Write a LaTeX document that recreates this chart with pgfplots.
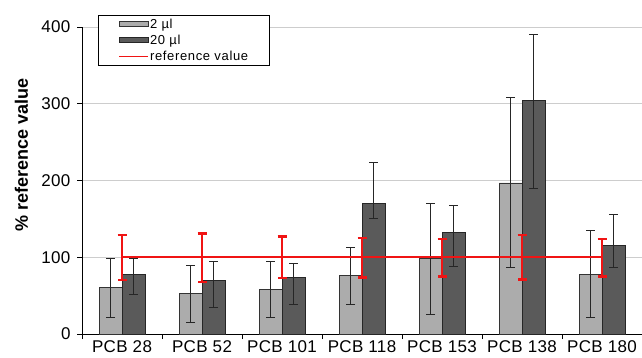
\documentclass[border=0pt]{standalone}
\usepackage{fontspec}
\setmainfont{Liberation Sans}
\newfontfamily\tickfont[LetterSpace=2]{Liberation Sans}
\newfontfamily\legfont[LetterSpace=5]{Liberation Sans}
\usepackage{pgfplots}
\pgfplotsset{compat=1.18}
\definecolor{lightbar}{RGB}{172,172,172}
\definecolor{darkbar}{RGB}{90,90,90}
\definecolor{gridc}{RGB}{205,205,205}
\definecolor{refred}{RGB}{240,20,20}
\begin{document}
\begin{tikzpicture}[x=1pt,y=1pt]
\begin{axis}[
  scale only axis,
  width=560pt, height=307pt,
  xmin=-0.5, xmax=6.5, ymin=0, ymax=400,
  axis x line=bottom, axis y line=left,
  axis line style={-, black, line width=0.8pt},
  ytick={0,100,200,300,400},
  xtick={-0.5,0.5,...,6.5},
  x tick label as interval,
  xticklabels={PCB 28,PCB 52,PCB 101,PCB 118,PCB 153,PCB 138,PCB 180},
  tick align=outside,
  major tick length=5pt,
  tick style={black, line width=0.7pt},
  ymajorgrids, grid style={gridc, line width=0.8pt},
  /pgf/number format/assume math mode=true,
  tick label style={font=\tickfont\fontsize{17}{19}\selectfont},
  yticklabel style={xshift=-3pt},
  xticklabel style={anchor=north, inner ysep=0.5pt, yshift=-1pt},
  ylabel={\textbf{\% reference value}},
  every axis y label/.style={at={(rel axis cs:-0.108,0.583)}, rotate=90, anchor=center,
     font=\fontsize{18}{20}\selectfont},
  legend style={at={(rel axis cs:0.0286,1.039)}, anchor=north west,
    draw=black, line width=0.8pt, font=\legfont\fontsize{13}{14}\selectfont,
    inner xsep=20pt, inner ysep=2.5pt, row sep=3pt, legend cell align=left,
    nodes={inner xsep=1.5pt, inner ysep=1pt}},
  legend image code/.code={\draw[#1, line width=0.8pt] (0pt,-2.5pt) rectangle (29pt,2.5pt);},
  clip=false,
]
\addplot[ybar, bar width=0.2875, bar shift=0, fill=lightbar, draw=black!80, line width=0.6pt,
  error bars/.cd, y dir=both, y explicit,
  error bar style={black!85, line width=0.7pt},
  error mark options={rotate=90, mark size=4.5pt, line width=0.9pt}]
coordinates {
 (-0.14375,61) += (0,38) -= (0,39)
 (0.85625,53) += (0,36) -= (0,38)
 (1.85625,58) += (0,36) -= (0,36)
 (2.85625,76.5) += (0,36.5) -= (0,38.5)
 (3.85625,98) += (0,72) -= (0,72)
 (4.85625,197) += (0,111) -= (0,110)
 (5.85625,78) += (0,56.5) -= (0,57)
};
\addlegendentry{2 µl}
\addplot[ybar, bar width=0.2875, bar shift=0, fill=darkbar, draw=black!85, line width=0.6pt,
  error bars/.cd, y dir=both, y explicit,
  error bar style={black!85, line width=0.7pt},
  error mark options={rotate=90, mark size=4.5pt, line width=0.9pt}]
coordinates {
 (0.14375,78) += (0,20) -= (0,27)
 (1.14375,70) += (0,25) -= (0,36)
 (2.14375,74) += (0,18) -= (0,36)
 (3.14375,170) += (0,54) -= (0,20)
 (4.14375,132.5) += (0,34.5) -= (0,44.5)
 (5.14375,304) += (0,86) -= (0,114)
 (6.14375,115) += (0,41) -= (0,28)
};
\addlegendentry{20 µl}
\addplot[refred, line width=2.4pt, mark=none,
  legend image code/.code={\draw[refred, line width=1.2pt] (0pt,0pt) -- (29pt,0pt);},
  error bars/.cd, y dir=both, y explicit,
  error bar style={refred, line width=2.2pt},
  error mark options={rotate=90, mark size=4.5pt, line width=2.2pt, refred}]
coordinates {
 (0,100) += (0,29.5) -= (0,30)
 (1,100) += (0,31) -= (0,32)
 (2,100) += (0,27) -= (0,27)
 (3,100) += (0,25.5) -= (0,26.5)
 (4,100) += (0,24) -= (0,25)
 (5,100) += (0,28.5) -= (0,29)
 (6,100) += (0,24) -= (0,25)
};
\addlegendentry{reference value}
\coordinate (ll) at (rel axis cs:0,0);
\coordinate (ur) at (rel axis cs:1,1);
\end{axis}
\pgfresetboundingbox
\path[use as bounding box] ([xshift=-82pt,yshift=-23pt]ll) rectangle ([yshift=27pt]ur);
\end{tikzpicture}
\end{document}
